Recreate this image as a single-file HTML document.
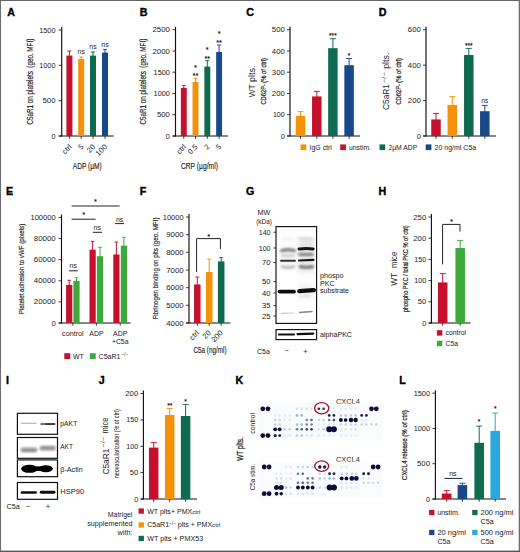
<!DOCTYPE html>
<html lang="en"><head><meta charset="utf-8"><title>Figure</title>
<style>
html,body{margin:0;padding:0;background:#fff;}
body{width:520px;height:552px;overflow:hidden;}
svg{display:block;font-family:"Liberation Sans",sans-serif;fill:#1a1a1a;}
svg text.h{stroke:#1a1a1a;stroke-width:0.15px;}
</style></head><body>
<svg width="520" height="552" viewBox="0 0 520 552">
<defs>
<filter id="b0" filterUnits="userSpaceOnUse" x="0" y="0" width="520" height="552"><feGaussianBlur stdDeviation="0.45"/></filter>
<filter id="b05" filterUnits="userSpaceOnUse" x="0" y="0" width="520" height="552"><feGaussianBlur stdDeviation="0.6"/></filter>
<filter id="b1" filterUnits="userSpaceOnUse" x="0" y="0" width="520" height="552"><feGaussianBlur stdDeviation="0.85"/></filter>
<filter id="b2" filterUnits="userSpaceOnUse" x="0" y="0" width="520" height="552"><feGaussianBlur stdDeviation="2.2"/></filter>
<filter id="b3" filterUnits="userSpaceOnUse" x="0" y="0" width="520" height="552"><feGaussianBlur stdDeviation="1.6"/></filter>
<filter id="d0" filterUnits="userSpaceOnUse" x="0" y="0" width="520" height="552"><feGaussianBlur stdDeviation="0.35"/></filter>
<filter id="d1" filterUnits="userSpaceOnUse" x="0" y="0" width="520" height="552"><feGaussianBlur stdDeviation="0.5"/></filter>
<clipPath id="cG1"><rect x="276" y="226.6" width="40.6" height="96.8"/></clipPath>
<clipPath id="cG2"><rect x="276" y="329.6" width="40.6" height="10"/></clipPath>
</defs>
<rect x="0" y="0" width="520" height="552" fill="#fff"/>
<text x="7.25" y="15.90" font-size="10.0" font-weight="bold" textLength="7.73" lengthAdjust="spacingAndGlyphs" fill="#000" stroke="#000" stroke-width="0.35">A</text>
<line x1="61.70" y1="27.10" x2="61.70" y2="136.55" stroke="#111" stroke-width="1.15"/>
<line x1="58.70" y1="30.00" x2="61.70" y2="30.00" stroke="#1a1a1a" stroke-width="0.85"/>
<text x="55.50" y="32.56" font-size="7.1" text-anchor="end" textLength="16.35" lengthAdjust="spacingAndGlyphs">1500</text>
<line x1="58.70" y1="65.30" x2="61.70" y2="65.30" stroke="#1a1a1a" stroke-width="0.85"/>
<text x="55.50" y="67.86" font-size="7.1" text-anchor="end" textLength="16.35" lengthAdjust="spacingAndGlyphs">1000</text>
<line x1="58.70" y1="100.70" x2="61.70" y2="100.70" stroke="#1a1a1a" stroke-width="0.85"/>
<text x="55.50" y="103.26" font-size="7.1" text-anchor="end" textLength="12.95" lengthAdjust="spacingAndGlyphs">500</text>
<line x1="58.70" y1="136.00" x2="61.70" y2="136.00" stroke="#1a1a1a" stroke-width="0.85"/>
<text x="55.50" y="138.56" font-size="7.1" text-anchor="end" textLength="4.05" lengthAdjust="spacingAndGlyphs">0</text>
<line x1="58.70" y1="136.00" x2="113.60" y2="136.00" stroke="#111" stroke-width="1.15"/>
<line x1="69.40" y1="136.00" x2="69.40" y2="138.80" stroke="#1a1a1a" stroke-width="0.85"/>
<line x1="81.20" y1="136.00" x2="81.20" y2="138.80" stroke="#1a1a1a" stroke-width="0.85"/>
<line x1="93.00" y1="136.00" x2="93.00" y2="138.80" stroke="#1a1a1a" stroke-width="0.85"/>
<line x1="105.00" y1="136.00" x2="105.00" y2="138.80" stroke="#1a1a1a" stroke-width="0.85"/>
<line x1="69.40" y1="51.00" x2="69.40" y2="56.10" stroke="#c5112e" stroke-width="1.0"/>
<line x1="67.40" y1="51.00" x2="71.40" y2="51.00" stroke="#c5112e" stroke-width="0.95"/>
<rect x="66.40" y="55.60" width="6.00" height="80.40" fill="#c5112e"/>
<line x1="81.20" y1="57.00" x2="81.20" y2="59.50" stroke="#f39208" stroke-width="1.0"/>
<line x1="79.20" y1="57.00" x2="83.20" y2="57.00" stroke="#f39208" stroke-width="0.95"/>
<rect x="78.20" y="59.00" width="6.00" height="77.00" fill="#f39208"/>
<line x1="93.00" y1="52.00" x2="93.00" y2="56.10" stroke="#0f6b50" stroke-width="1.0"/>
<line x1="91.00" y1="52.00" x2="95.00" y2="52.00" stroke="#0f6b50" stroke-width="0.95"/>
<rect x="90.00" y="55.60" width="6.00" height="80.40" fill="#0f6b50"/>
<line x1="105.00" y1="49.60" x2="105.00" y2="53.10" stroke="#17498a" stroke-width="1.0"/>
<line x1="103.00" y1="49.60" x2="107.00" y2="49.60" stroke="#17498a" stroke-width="0.95"/>
<rect x="102.00" y="52.60" width="6.00" height="83.40" fill="#17498a"/>
<text x="81.20" y="53.62" font-size="7" text-anchor="middle">ns</text>
<text x="93.00" y="49.22" font-size="7" text-anchor="middle">ns</text>
<text x="105.00" y="47.22" font-size="7" text-anchor="middle">ns</text>
<text transform="translate(70.20 145.40) rotate(-45)" y="2.70" font-size="7.5" text-anchor="end">ctrl</text>
<text transform="translate(82.00 145.40) rotate(-45)" y="2.70" font-size="7.5" text-anchor="end" textLength="3.91" lengthAdjust="spacingAndGlyphs">5</text>
<text transform="translate(93.80 145.40) rotate(-45)" y="2.70" font-size="7.5" text-anchor="end" textLength="8.42" lengthAdjust="spacingAndGlyphs">20</text>
<text transform="translate(105.80 145.40) rotate(-45)" y="2.70" font-size="7.5" text-anchor="end" textLength="12.93" lengthAdjust="spacingAndGlyphs">100</text>
<text x="87.30" y="169.31" font-size="9.2" text-anchor="middle" textLength="29.00" lengthAdjust="spacingAndGlyphs" class="h">ADP (µM)</text>
<text transform="translate(29.60 81.60) rotate(-90)" y="2.95" font-size="8.2" text-anchor="middle" textLength="85.70" lengthAdjust="spacingAndGlyphs" class="h">C5aR1 on platelets&#160; (geo. MFI)</text>
<text x="139.80" y="15.80" font-size="10.0" font-weight="bold" textLength="7.73" lengthAdjust="spacingAndGlyphs" fill="#000" stroke="#000" stroke-width="0.35">B</text>
<line x1="175.50" y1="26.80" x2="175.50" y2="136.55" stroke="#111" stroke-width="1.15"/>
<line x1="172.50" y1="29.70" x2="175.50" y2="29.70" stroke="#1a1a1a" stroke-width="0.85"/>
<text x="169.90" y="32.26" font-size="7.1" text-anchor="end" textLength="17.40" lengthAdjust="spacingAndGlyphs">2500</text>
<line x1="172.50" y1="51.00" x2="175.50" y2="51.00" stroke="#1a1a1a" stroke-width="0.85"/>
<text x="169.90" y="53.56" font-size="7.1" text-anchor="end" textLength="17.40" lengthAdjust="spacingAndGlyphs">2000</text>
<line x1="172.50" y1="72.20" x2="175.50" y2="72.20" stroke="#1a1a1a" stroke-width="0.85"/>
<text x="169.90" y="74.76" font-size="7.1" text-anchor="end" textLength="16.35" lengthAdjust="spacingAndGlyphs">1500</text>
<line x1="172.50" y1="93.50" x2="175.50" y2="93.50" stroke="#1a1a1a" stroke-width="0.85"/>
<text x="169.90" y="96.06" font-size="7.1" text-anchor="end" textLength="16.35" lengthAdjust="spacingAndGlyphs">1000</text>
<line x1="172.50" y1="114.70" x2="175.50" y2="114.70" stroke="#1a1a1a" stroke-width="0.85"/>
<text x="169.90" y="117.26" font-size="7.1" text-anchor="end" textLength="12.95" lengthAdjust="spacingAndGlyphs">500</text>
<line x1="172.50" y1="136.00" x2="175.50" y2="136.00" stroke="#1a1a1a" stroke-width="0.85"/>
<text x="169.90" y="138.56" font-size="7.1" text-anchor="end" textLength="4.05" lengthAdjust="spacingAndGlyphs">0</text>
<line x1="172.70" y1="136.00" x2="228.00" y2="136.00" stroke="#111" stroke-width="1.15"/>
<line x1="183.80" y1="136.00" x2="183.80" y2="138.80" stroke="#1a1a1a" stroke-width="0.85"/>
<line x1="195.50" y1="136.00" x2="195.50" y2="138.80" stroke="#1a1a1a" stroke-width="0.85"/>
<line x1="207.30" y1="136.00" x2="207.30" y2="138.80" stroke="#1a1a1a" stroke-width="0.85"/>
<line x1="219.10" y1="136.00" x2="219.10" y2="138.80" stroke="#1a1a1a" stroke-width="0.85"/>
<line x1="183.80" y1="85.40" x2="183.80" y2="88.50" stroke="#c5112e" stroke-width="1.0"/>
<line x1="181.80" y1="85.40" x2="185.80" y2="85.40" stroke="#c5112e" stroke-width="0.95"/>
<rect x="180.85" y="88.00" width="5.90" height="48.00" fill="#c5112e"/>
<line x1="195.50" y1="78.60" x2="195.50" y2="82.50" stroke="#f39208" stroke-width="1.0"/>
<line x1="193.50" y1="78.60" x2="197.50" y2="78.60" stroke="#f39208" stroke-width="0.95"/>
<rect x="192.55" y="82.00" width="5.90" height="54.00" fill="#f39208"/>
<line x1="207.30" y1="60.60" x2="207.30" y2="67.10" stroke="#0f6b50" stroke-width="1.0"/>
<line x1="205.30" y1="60.60" x2="209.30" y2="60.60" stroke="#0f6b50" stroke-width="0.95"/>
<rect x="204.35" y="66.60" width="5.90" height="69.40" fill="#0f6b50"/>
<line x1="219.10" y1="45.00" x2="219.10" y2="52.50" stroke="#17498a" stroke-width="1.0"/>
<line x1="217.10" y1="45.00" x2="221.10" y2="45.00" stroke="#17498a" stroke-width="0.95"/>
<rect x="216.15" y="52.00" width="5.90" height="84.00" fill="#17498a"/>
<text x="195.50" y="78.25" font-size="7.5" text-anchor="middle" fill="#000" stroke="#000" stroke-width="0.1">**</text>
<text x="195.50" y="69.85" font-size="7.5" text-anchor="middle" fill="#000" stroke="#000" stroke-width="0.1">*</text>
<text x="207.30" y="60.85" font-size="7.5" text-anchor="middle" fill="#000" stroke="#000" stroke-width="0.1">**</text>
<text x="207.30" y="52.25" font-size="7.5" text-anchor="middle" fill="#000" stroke="#000" stroke-width="0.1">*</text>
<text x="219.10" y="44.65" font-size="7.5" text-anchor="middle" fill="#000" stroke="#000" stroke-width="0.1">**</text>
<text x="219.10" y="36.25" font-size="7.5" text-anchor="middle" fill="#000" stroke="#000" stroke-width="0.1">*</text>
<text transform="translate(184.60 145.40) rotate(-45)" y="2.70" font-size="7.5" text-anchor="end">ctrl</text>
<text transform="translate(196.30 145.40) rotate(-45)" y="2.70" font-size="7.5" text-anchor="end" textLength="10.42" lengthAdjust="spacingAndGlyphs">0.5</text>
<text transform="translate(208.10 145.40) rotate(-45)" y="2.70" font-size="7.5" text-anchor="end" textLength="3.91" lengthAdjust="spacingAndGlyphs">2</text>
<text transform="translate(219.90 145.40) rotate(-45)" y="2.70" font-size="7.5" text-anchor="end" textLength="3.91" lengthAdjust="spacingAndGlyphs">5</text>
<text x="199.40" y="169.11" font-size="9.2" text-anchor="middle" textLength="37.00" lengthAdjust="spacingAndGlyphs" class="h">CRP (µg/ml)</text>
<text transform="translate(143.40 81.60) rotate(-90)" y="2.95" font-size="8.2" text-anchor="middle" textLength="85.70" lengthAdjust="spacingAndGlyphs" class="h">C5aR1 on platelets&#160; (geo. MFI)</text>
<text x="246.30" y="15.80" font-size="10.0" font-weight="bold" textLength="7.73" lengthAdjust="spacingAndGlyphs" fill="#000" stroke="#000" stroke-width="0.35">C</text>
<line x1="290.00" y1="26.80" x2="290.00" y2="136.55" stroke="#111" stroke-width="1.15"/>
<line x1="287.00" y1="29.70" x2="290.00" y2="29.70" stroke="#1a1a1a" stroke-width="0.85"/>
<text x="284.80" y="32.26" font-size="7.1" text-anchor="end" textLength="12.95" lengthAdjust="spacingAndGlyphs">500</text>
<line x1="287.00" y1="51.00" x2="290.00" y2="51.00" stroke="#1a1a1a" stroke-width="0.85"/>
<text x="284.80" y="53.56" font-size="7.1" text-anchor="end" textLength="12.95" lengthAdjust="spacingAndGlyphs">400</text>
<line x1="287.00" y1="72.20" x2="290.00" y2="72.20" stroke="#1a1a1a" stroke-width="0.85"/>
<text x="284.80" y="74.76" font-size="7.1" text-anchor="end" textLength="12.95" lengthAdjust="spacingAndGlyphs">300</text>
<line x1="287.00" y1="93.50" x2="290.00" y2="93.50" stroke="#1a1a1a" stroke-width="0.85"/>
<text x="284.80" y="96.06" font-size="7.1" text-anchor="end" textLength="12.95" lengthAdjust="spacingAndGlyphs">200</text>
<line x1="287.00" y1="114.70" x2="290.00" y2="114.70" stroke="#1a1a1a" stroke-width="0.85"/>
<text x="284.80" y="117.26" font-size="7.1" text-anchor="end" textLength="11.90" lengthAdjust="spacingAndGlyphs">100</text>
<line x1="287.00" y1="136.00" x2="290.00" y2="136.00" stroke="#1a1a1a" stroke-width="0.85"/>
<text x="284.80" y="138.56" font-size="7.1" text-anchor="end" textLength="4.05" lengthAdjust="spacingAndGlyphs">0</text>
<line x1="287.20" y1="136.00" x2="360.00" y2="136.00" stroke="#111" stroke-width="1.15"/>
<line x1="300.50" y1="136.00" x2="300.50" y2="138.80" stroke="#1a1a1a" stroke-width="0.85"/>
<line x1="316.80" y1="136.00" x2="316.80" y2="138.80" stroke="#1a1a1a" stroke-width="0.85"/>
<line x1="332.90" y1="136.00" x2="332.90" y2="138.80" stroke="#1a1a1a" stroke-width="0.85"/>
<line x1="349.10" y1="136.00" x2="349.10" y2="138.80" stroke="#1a1a1a" stroke-width="0.85"/>
<line x1="300.50" y1="111.60" x2="300.50" y2="116.50" stroke="#f39208" stroke-width="1.0"/>
<line x1="297.50" y1="111.60" x2="303.50" y2="111.60" stroke="#f39208" stroke-width="0.95"/>
<rect x="295.75" y="116.00" width="9.50" height="20.00" fill="#f39208"/>
<line x1="316.80" y1="91.40" x2="316.80" y2="96.90" stroke="#c5112e" stroke-width="1.0"/>
<line x1="313.80" y1="91.40" x2="319.80" y2="91.40" stroke="#c5112e" stroke-width="0.95"/>
<rect x="312.05" y="96.40" width="9.50" height="39.60" fill="#c5112e"/>
<line x1="332.90" y1="38.70" x2="332.90" y2="48.70" stroke="#0f6b50" stroke-width="1.0"/>
<line x1="329.90" y1="38.70" x2="335.90" y2="38.70" stroke="#0f6b50" stroke-width="0.95"/>
<rect x="328.15" y="48.20" width="9.50" height="87.80" fill="#0f6b50"/>
<line x1="349.10" y1="58.50" x2="349.10" y2="65.70" stroke="#17498a" stroke-width="1.0"/>
<line x1="346.10" y1="58.50" x2="352.10" y2="58.50" stroke="#17498a" stroke-width="0.95"/>
<rect x="344.35" y="65.20" width="9.50" height="70.80" fill="#17498a"/>
<text x="332.90" y="38.49" font-size="6.5" text-anchor="middle" fill="#000" stroke="#000" stroke-width="0.1">***</text>
<text x="349.10" y="58.09" font-size="6.5" text-anchor="middle" fill="#000" stroke="#000" stroke-width="0.1">*</text>
<text transform="translate(251.30 97.20) rotate(-90)" y="3.46" font-size="9.6" textLength="12.80" lengthAdjust="spacingAndGlyphs">WT</text>
<text transform="translate(251.30 82.00) rotate(-90)" y="3.38" font-size="9.4" textLength="16.40" lengthAdjust="spacingAndGlyphs">plts.</text>
<text transform="translate(263.70 81.30) rotate(-90)" y="2.45" font-size="6.8" text-anchor="middle" textLength="46.50" lengthAdjust="spacingAndGlyphs" stroke="#1a1a1a" stroke-width="0.22">CD62P<tspan dy="-1.6" font-size="3.6">+</tspan><tspan dy="1.6"> (% of ctrl)</tspan></text>
<rect x="300.60" y="144.40" width="5.70" height="5.70" fill="#f39208"/>
<text x="309.50" y="149.82" font-size="7.0" textLength="22.40" lengthAdjust="spacingAndGlyphs">IgG ctrl</text>
<rect x="340.20" y="144.40" width="5.70" height="5.70" fill="#c5112e"/>
<text x="349.10" y="149.82" font-size="7.0" textLength="21.80" lengthAdjust="spacingAndGlyphs">unstim.</text>
<rect x="379.50" y="144.40" width="5.70" height="5.70" fill="#0f6b50"/>
<text x="388.40" y="149.82" font-size="7.0" textLength="28.80" lengthAdjust="spacingAndGlyphs">2µM ADP</text>
<rect x="425.70" y="144.40" width="5.70" height="5.70" fill="#17498a"/>
<text x="434.60" y="149.82" font-size="7.0" textLength="41.60" lengthAdjust="spacingAndGlyphs">20 ng/ml C5a</text>
<text x="378.80" y="15.80" font-size="10.0" font-weight="bold" textLength="7.73" lengthAdjust="spacingAndGlyphs" fill="#000" stroke="#000" stroke-width="0.35">D</text>
<line x1="426.00" y1="26.80" x2="426.00" y2="136.55" stroke="#111" stroke-width="1.15"/>
<line x1="423.00" y1="29.70" x2="426.00" y2="29.70" stroke="#1a1a1a" stroke-width="0.85"/>
<text x="420.80" y="32.26" font-size="7.1" text-anchor="end" textLength="12.95" lengthAdjust="spacingAndGlyphs">600</text>
<line x1="423.00" y1="65.20" x2="426.00" y2="65.20" stroke="#1a1a1a" stroke-width="0.85"/>
<text x="420.80" y="67.76" font-size="7.1" text-anchor="end" textLength="12.95" lengthAdjust="spacingAndGlyphs">400</text>
<line x1="423.00" y1="100.60" x2="426.00" y2="100.60" stroke="#1a1a1a" stroke-width="0.85"/>
<text x="420.80" y="103.16" font-size="7.1" text-anchor="end" textLength="12.95" lengthAdjust="spacingAndGlyphs">200</text>
<line x1="423.00" y1="136.00" x2="426.00" y2="136.00" stroke="#1a1a1a" stroke-width="0.85"/>
<text x="420.80" y="138.56" font-size="7.1" text-anchor="end" textLength="4.05" lengthAdjust="spacingAndGlyphs">0</text>
<line x1="423.20" y1="136.00" x2="496.00" y2="136.00" stroke="#111" stroke-width="1.15"/>
<line x1="436.00" y1="136.00" x2="436.00" y2="138.80" stroke="#1a1a1a" stroke-width="0.85"/>
<line x1="452.30" y1="136.00" x2="452.30" y2="138.80" stroke="#1a1a1a" stroke-width="0.85"/>
<line x1="468.80" y1="136.00" x2="468.80" y2="138.80" stroke="#1a1a1a" stroke-width="0.85"/>
<line x1="484.80" y1="136.00" x2="484.80" y2="138.80" stroke="#1a1a1a" stroke-width="0.85"/>
<line x1="436.00" y1="113.40" x2="436.00" y2="119.90" stroke="#c5112e" stroke-width="1.0"/>
<line x1="433.00" y1="113.40" x2="439.00" y2="113.40" stroke="#c5112e" stroke-width="0.95"/>
<rect x="431.25" y="119.40" width="9.50" height="16.60" fill="#c5112e"/>
<line x1="452.30" y1="96.60" x2="452.30" y2="105.50" stroke="#f39208" stroke-width="1.0"/>
<line x1="449.30" y1="96.60" x2="455.30" y2="96.60" stroke="#f39208" stroke-width="0.95"/>
<rect x="447.55" y="105.00" width="9.50" height="31.00" fill="#f39208"/>
<line x1="468.80" y1="48.40" x2="468.80" y2="55.50" stroke="#0f6b50" stroke-width="1.0"/>
<line x1="465.80" y1="48.40" x2="471.80" y2="48.40" stroke="#0f6b50" stroke-width="0.95"/>
<rect x="464.05" y="55.00" width="9.50" height="81.00" fill="#0f6b50"/>
<line x1="484.80" y1="105.40" x2="484.80" y2="111.70" stroke="#17498a" stroke-width="1.0"/>
<line x1="481.80" y1="105.40" x2="487.80" y2="105.40" stroke="#17498a" stroke-width="0.95"/>
<rect x="480.05" y="111.20" width="9.50" height="24.80" fill="#17498a"/>
<text x="468.80" y="47.89" font-size="6.5" text-anchor="middle" fill="#000" stroke="#000" stroke-width="0.1">***</text>
<text x="484.80" y="103.10" font-size="6.4" text-anchor="middle">ns</text>
<text transform="translate(385.50 110.00) rotate(-90)" y="3.49" font-size="9.7" textLength="26.00" lengthAdjust="spacingAndGlyphs">C5aR1</text>
<text transform="translate(383.80 83.00) rotate(-90)" y="2.02" font-size="5.6" textLength="10.80" lengthAdjust="spacingAndGlyphs">−/−</text>
<text transform="translate(385.50 68.80) rotate(-90)" y="3.38" font-size="9.4" textLength="16.20" lengthAdjust="spacingAndGlyphs">plts.</text>
<text transform="translate(398.70 81.30) rotate(-90)" y="2.45" font-size="6.8" text-anchor="middle" textLength="46.50" lengthAdjust="spacingAndGlyphs" stroke="#1a1a1a" stroke-width="0.22">CD62P<tspan dy="-1.6" font-size="3.6">+</tspan><tspan dy="1.6"> (% of ctrl)</tspan></text>
<text x="6.05" y="195.40" font-size="10.0" font-weight="bold" textLength="7.14" lengthAdjust="spacingAndGlyphs" fill="#000" stroke="#000" stroke-width="0.35">E</text>
<line x1="61.50" y1="214.50" x2="61.50" y2="323.55" stroke="#111" stroke-width="1.15"/>
<line x1="58.50" y1="217.40" x2="61.50" y2="217.40" stroke="#1a1a1a" stroke-width="0.85"/>
<text x="55.70" y="219.96" font-size="7.1" text-anchor="end" textLength="25.25" lengthAdjust="spacingAndGlyphs">100000</text>
<line x1="58.50" y1="238.50" x2="61.50" y2="238.50" stroke="#1a1a1a" stroke-width="0.85"/>
<text x="55.70" y="241.06" font-size="7.1" text-anchor="end" textLength="21.85" lengthAdjust="spacingAndGlyphs">80000</text>
<line x1="58.50" y1="259.60" x2="61.50" y2="259.60" stroke="#1a1a1a" stroke-width="0.85"/>
<text x="55.70" y="262.16" font-size="7.1" text-anchor="end" textLength="21.85" lengthAdjust="spacingAndGlyphs">60000</text>
<line x1="58.50" y1="280.80" x2="61.50" y2="280.80" stroke="#1a1a1a" stroke-width="0.85"/>
<text x="55.70" y="283.36" font-size="7.1" text-anchor="end" textLength="21.85" lengthAdjust="spacingAndGlyphs">40000</text>
<line x1="58.50" y1="301.90" x2="61.50" y2="301.90" stroke="#1a1a1a" stroke-width="0.85"/>
<text x="55.70" y="304.46" font-size="7.1" text-anchor="end" textLength="21.85" lengthAdjust="spacingAndGlyphs">20000</text>
<line x1="58.50" y1="323.00" x2="61.50" y2="323.00" stroke="#1a1a1a" stroke-width="0.85"/>
<text x="55.70" y="325.56" font-size="7.1" text-anchor="end" textLength="4.05" lengthAdjust="spacingAndGlyphs">0</text>
<line x1="58.70" y1="323.00" x2="130.50" y2="323.00" stroke="#111" stroke-width="1.15"/>
<line x1="72.90" y1="323.00" x2="72.90" y2="325.80" stroke="#1a1a1a" stroke-width="0.85"/>
<line x1="96.40" y1="323.00" x2="96.40" y2="325.80" stroke="#1a1a1a" stroke-width="0.85"/>
<line x1="120.20" y1="323.00" x2="120.20" y2="325.80" stroke="#1a1a1a" stroke-width="0.85"/>
<line x1="69.20" y1="280.30" x2="69.20" y2="285.40" stroke="#c5112e" stroke-width="1.0"/>
<line x1="67.40" y1="280.30" x2="71.00" y2="280.30" stroke="#c5112e" stroke-width="0.95"/>
<rect x="66.10" y="284.90" width="6.20" height="38.10" fill="#c5112e"/>
<line x1="76.50" y1="277.70" x2="76.50" y2="281.30" stroke="#3da83c" stroke-width="1.0"/>
<line x1="74.70" y1="277.70" x2="78.30" y2="277.70" stroke="#3da83c" stroke-width="0.95"/>
<rect x="73.40" y="280.80" width="6.20" height="42.20" fill="#3da83c"/>
<line x1="92.60" y1="241.40" x2="92.60" y2="250.20" stroke="#c5112e" stroke-width="1.0"/>
<line x1="90.80" y1="241.40" x2="94.40" y2="241.40" stroke="#c5112e" stroke-width="0.95"/>
<rect x="89.50" y="249.70" width="6.20" height="73.30" fill="#c5112e"/>
<line x1="100.00" y1="247.30" x2="100.00" y2="256.70" stroke="#3da83c" stroke-width="1.0"/>
<line x1="98.20" y1="247.30" x2="101.80" y2="247.30" stroke="#3da83c" stroke-width="0.95"/>
<rect x="96.90" y="256.20" width="6.20" height="66.80" fill="#3da83c"/>
<line x1="116.40" y1="242.10" x2="116.40" y2="255.00" stroke="#c5112e" stroke-width="1.0"/>
<line x1="114.60" y1="242.10" x2="118.20" y2="242.10" stroke="#c5112e" stroke-width="0.95"/>
<rect x="113.30" y="254.50" width="6.20" height="68.50" fill="#c5112e"/>
<line x1="123.90" y1="237.30" x2="123.90" y2="246.20" stroke="#3da83c" stroke-width="1.0"/>
<line x1="122.10" y1="237.30" x2="125.70" y2="237.30" stroke="#3da83c" stroke-width="0.95"/>
<rect x="120.80" y="245.70" width="6.20" height="77.30" fill="#3da83c"/>
<text x="73.30" y="268.12" font-size="7" text-anchor="middle">ns</text>
<line x1="69.00" y1="270.80" x2="77.80" y2="270.80" stroke="#222" stroke-width="1.0"/>
<text x="97.30" y="229.52" font-size="7" text-anchor="middle">ns</text>
<line x1="92.80" y1="232.30" x2="102.00" y2="232.30" stroke="#222" stroke-width="1.0"/>
<text x="119.60" y="221.52" font-size="7" text-anchor="middle">ns</text>
<line x1="115.00" y1="223.60" x2="124.20" y2="223.60" stroke="#222" stroke-width="1.0"/>
<line x1="71.60" y1="219.20" x2="95.60" y2="219.20" stroke="#222" stroke-width="1.0"/>
<text x="83.60" y="217.45" font-size="7.5" text-anchor="middle" fill="#000" stroke="#000" stroke-width="0.1">*</text>
<line x1="71.60" y1="206.00" x2="119.60" y2="206.00" stroke="#222" stroke-width="1.0"/>
<text x="95.40" y="204.25" font-size="7.5" text-anchor="middle" fill="#000" stroke="#000" stroke-width="0.1">*</text>
<text x="72.90" y="335.88" font-size="6.9" text-anchor="middle" textLength="21.60" lengthAdjust="spacingAndGlyphs">control</text>
<text x="96.40" y="335.88" font-size="6.9" text-anchor="middle" textLength="14.20" lengthAdjust="spacingAndGlyphs">ADP</text>
<text x="120.20" y="335.88" font-size="6.9" text-anchor="middle" textLength="14.20" lengthAdjust="spacingAndGlyphs">ADP</text>
<text x="120.20" y="343.88" font-size="6.9" text-anchor="middle" textLength="16.60" lengthAdjust="spacingAndGlyphs">+C5a</text>
<rect x="64.30" y="353.20" width="5.90" height="5.90" fill="#c5112e"/>
<text x="73.00" y="358.80" font-size="7.5" textLength="10.80" lengthAdjust="spacingAndGlyphs">WT</text>
<rect x="89.80" y="353.20" width="5.90" height="5.90" fill="#3da83c"/>
<text x="98.60" y="358.80" font-size="7.5" textLength="29.40" lengthAdjust="spacingAndGlyphs">C5aR1<tspan dx="1.2" dy="-2.9" font-size="4.8">−/−</tspan></text>
<text transform="translate(21.30 269.00) rotate(-90)" y="2.84" font-size="7.9" text-anchor="middle" textLength="90.50" lengthAdjust="spacingAndGlyphs" class="h">Platelet adhesion to vWF (pixels)</text>
<text x="139.80" y="195.40" font-size="10.0" font-weight="bold" textLength="6.54" lengthAdjust="spacingAndGlyphs" fill="#000" stroke="#000" stroke-width="0.35">F</text>
<line x1="189.00" y1="214.10" x2="189.00" y2="323.55" stroke="#111" stroke-width="1.15"/>
<line x1="186.00" y1="217.00" x2="189.00" y2="217.00" stroke="#1a1a1a" stroke-width="0.85"/>
<text x="183.60" y="219.56" font-size="7.1" text-anchor="end" textLength="20.80" lengthAdjust="spacingAndGlyphs">10000</text>
<line x1="186.00" y1="234.70" x2="189.00" y2="234.70" stroke="#1a1a1a" stroke-width="0.85"/>
<text x="183.60" y="237.26" font-size="7.1" text-anchor="end" textLength="17.40" lengthAdjust="spacingAndGlyphs">9000</text>
<line x1="186.00" y1="252.30" x2="189.00" y2="252.30" stroke="#1a1a1a" stroke-width="0.85"/>
<text x="183.60" y="254.86" font-size="7.1" text-anchor="end" textLength="17.40" lengthAdjust="spacingAndGlyphs">8000</text>
<line x1="186.00" y1="270.00" x2="189.00" y2="270.00" stroke="#1a1a1a" stroke-width="0.85"/>
<text x="183.60" y="272.56" font-size="7.1" text-anchor="end" textLength="17.40" lengthAdjust="spacingAndGlyphs">7000</text>
<line x1="186.00" y1="287.70" x2="189.00" y2="287.70" stroke="#1a1a1a" stroke-width="0.85"/>
<text x="183.60" y="290.26" font-size="7.1" text-anchor="end" textLength="17.40" lengthAdjust="spacingAndGlyphs">6000</text>
<line x1="186.00" y1="305.30" x2="189.00" y2="305.30" stroke="#1a1a1a" stroke-width="0.85"/>
<text x="183.60" y="307.86" font-size="7.1" text-anchor="end" textLength="17.40" lengthAdjust="spacingAndGlyphs">5000</text>
<line x1="186.00" y1="323.00" x2="189.00" y2="323.00" stroke="#1a1a1a" stroke-width="0.85"/>
<text x="183.60" y="325.56" font-size="7.1" text-anchor="end" textLength="17.40" lengthAdjust="spacingAndGlyphs">4000</text>
<line x1="186.20" y1="323.00" x2="230.30" y2="323.00" stroke="#111" stroke-width="1.15"/>
<line x1="197.30" y1="323.00" x2="197.30" y2="325.80" stroke="#1a1a1a" stroke-width="0.85"/>
<line x1="209.20" y1="323.00" x2="209.20" y2="325.80" stroke="#1a1a1a" stroke-width="0.85"/>
<line x1="221.20" y1="323.00" x2="221.20" y2="325.80" stroke="#1a1a1a" stroke-width="0.85"/>
<line x1="197.30" y1="277.00" x2="197.30" y2="284.90" stroke="#c5112e" stroke-width="1.0"/>
<line x1="195.30" y1="277.00" x2="199.30" y2="277.00" stroke="#c5112e" stroke-width="0.95"/>
<rect x="194.05" y="284.40" width="6.50" height="38.60" fill="#c5112e"/>
<line x1="209.20" y1="259.00" x2="209.20" y2="272.50" stroke="#f39208" stroke-width="1.0"/>
<line x1="207.20" y1="259.00" x2="211.20" y2="259.00" stroke="#f39208" stroke-width="0.95"/>
<rect x="205.95" y="272.00" width="6.50" height="51.00" fill="#f39208"/>
<line x1="221.20" y1="257.60" x2="221.20" y2="261.90" stroke="#0f6b50" stroke-width="1.0"/>
<line x1="219.20" y1="257.60" x2="223.20" y2="257.60" stroke="#0f6b50" stroke-width="0.95"/>
<rect x="217.95" y="261.40" width="6.50" height="61.60" fill="#0f6b50"/>
<path d="M196.6 272 V238.6 H220.4 V249" fill="none" stroke="#222" stroke-width="1.0"/>
<text x="208.60" y="238.65" font-size="7.5" text-anchor="middle" fill="#000" stroke="#000" stroke-width="0.1">*</text>
<text transform="translate(197.60 331.40) rotate(-45)" y="2.70" font-size="7.5" text-anchor="end">ctrl</text>
<text transform="translate(209.50 331.40) rotate(-45)" y="2.70" font-size="7.5" text-anchor="end" textLength="8.42" lengthAdjust="spacingAndGlyphs">20</text>
<text transform="translate(221.50 331.40) rotate(-45)" y="2.70" font-size="7.5" text-anchor="end" textLength="12.93" lengthAdjust="spacingAndGlyphs">200</text>
<text x="210.00" y="353.31" font-size="9.2" text-anchor="middle" textLength="33.00" lengthAdjust="spacingAndGlyphs" class="h">C5a (ng/ml)</text>
<text transform="translate(154.70 268.50) rotate(-90)" y="2.84" font-size="7.9" text-anchor="middle" textLength="102.00" lengthAdjust="spacingAndGlyphs" class="h">Fibrinogen binding on plts (geo. MFI)</text>
<text x="378.55" y="195.40" font-size="10.0" font-weight="bold" textLength="7.73" lengthAdjust="spacingAndGlyphs" fill="#000" stroke="#000" stroke-width="0.35">H</text>
<line x1="431.40" y1="214.10" x2="431.40" y2="323.55" stroke="#111" stroke-width="1.15"/>
<line x1="428.40" y1="217.00" x2="431.40" y2="217.00" stroke="#1a1a1a" stroke-width="0.85"/>
<text x="426.20" y="219.56" font-size="7.1" text-anchor="end" textLength="12.95" lengthAdjust="spacingAndGlyphs">250</text>
<line x1="428.40" y1="238.20" x2="431.40" y2="238.20" stroke="#1a1a1a" stroke-width="0.85"/>
<text x="426.20" y="240.76" font-size="7.1" text-anchor="end" textLength="12.95" lengthAdjust="spacingAndGlyphs">200</text>
<line x1="428.40" y1="259.40" x2="431.40" y2="259.40" stroke="#1a1a1a" stroke-width="0.85"/>
<text x="426.20" y="261.96" font-size="7.1" text-anchor="end" textLength="11.90" lengthAdjust="spacingAndGlyphs">150</text>
<line x1="428.40" y1="280.60" x2="431.40" y2="280.60" stroke="#1a1a1a" stroke-width="0.85"/>
<text x="426.20" y="283.16" font-size="7.1" text-anchor="end" textLength="11.90" lengthAdjust="spacingAndGlyphs">100</text>
<line x1="428.40" y1="301.80" x2="431.40" y2="301.80" stroke="#1a1a1a" stroke-width="0.85"/>
<text x="426.20" y="304.36" font-size="7.1" text-anchor="end" textLength="8.50" lengthAdjust="spacingAndGlyphs">50</text>
<line x1="428.40" y1="323.00" x2="431.40" y2="323.00" stroke="#1a1a1a" stroke-width="0.85"/>
<text x="426.20" y="325.56" font-size="7.1" text-anchor="end" textLength="4.05" lengthAdjust="spacingAndGlyphs">0</text>
<line x1="428.60" y1="323.00" x2="470.50" y2="323.00" stroke="#111" stroke-width="1.15"/>
<line x1="442.70" y1="323.00" x2="442.70" y2="325.80" stroke="#1a1a1a" stroke-width="0.85"/>
<line x1="460.20" y1="323.00" x2="460.20" y2="325.80" stroke="#1a1a1a" stroke-width="0.85"/>
<line x1="442.70" y1="273.60" x2="442.70" y2="282.90" stroke="#c5112e" stroke-width="1.0"/>
<line x1="439.70" y1="273.60" x2="445.70" y2="273.60" stroke="#c5112e" stroke-width="0.95"/>
<rect x="437.95" y="282.40" width="9.50" height="40.60" fill="#c5112e"/>
<line x1="460.20" y1="240.40" x2="460.20" y2="248.50" stroke="#3da83c" stroke-width="1.0"/>
<line x1="457.20" y1="240.40" x2="463.20" y2="240.40" stroke="#3da83c" stroke-width="0.95"/>
<rect x="455.45" y="248.00" width="9.50" height="75.00" fill="#3da83c"/>
<path d="M442.6 264.4 V224.4 H460 V231.6" fill="none" stroke="#222" stroke-width="1.0"/>
<text x="451.40" y="224.25" font-size="7.5" text-anchor="middle" fill="#000" stroke="#000" stroke-width="0.1">*</text>
<rect x="436.90" y="330.20" width="5.40" height="5.40" fill="#c5112e"/>
<text x="445.50" y="335.45" font-size="6.8" textLength="20.60" lengthAdjust="spacingAndGlyphs">control</text>
<rect x="436.90" y="340.80" width="5.40" height="5.40" fill="#3da83c"/>
<text x="445.50" y="345.95" font-size="6.8" textLength="12.40" lengthAdjust="spacingAndGlyphs">C5a</text>
<text transform="translate(393.20 285.80) rotate(-90)" y="3.46" font-size="9.6" textLength="13.00" lengthAdjust="spacingAndGlyphs">WT</text>
<text transform="translate(393.40 268.00) rotate(-90)" y="3.13" font-size="8.7" textLength="16.20" lengthAdjust="spacingAndGlyphs">mice</text>
<text transform="translate(405.60 268.80) rotate(-90)" y="2.45" font-size="6.8" text-anchor="middle" textLength="87.00" lengthAdjust="spacingAndGlyphs" stroke="#1a1a1a" stroke-width="0.2">phospho PKC / total PKC % of ctrl)</text>
<text x="98.65" y="383.90" font-size="10.0" font-weight="bold" textLength="5.95" lengthAdjust="spacingAndGlyphs" fill="#000" stroke="#000" stroke-width="0.35">J</text>
<line x1="143.40" y1="390.60" x2="143.40" y2="499.55" stroke="#111" stroke-width="1.15"/>
<line x1="140.40" y1="393.50" x2="143.40" y2="393.50" stroke="#1a1a1a" stroke-width="0.85"/>
<text x="138.20" y="396.06" font-size="7.1" text-anchor="end" textLength="12.95" lengthAdjust="spacingAndGlyphs">200</text>
<line x1="140.40" y1="419.90" x2="143.40" y2="419.90" stroke="#1a1a1a" stroke-width="0.85"/>
<text x="138.20" y="422.46" font-size="7.1" text-anchor="end" textLength="11.90" lengthAdjust="spacingAndGlyphs">150</text>
<line x1="140.40" y1="446.30" x2="143.40" y2="446.30" stroke="#1a1a1a" stroke-width="0.85"/>
<text x="138.20" y="448.86" font-size="7.1" text-anchor="end" textLength="11.90" lengthAdjust="spacingAndGlyphs">100</text>
<line x1="140.40" y1="472.60" x2="143.40" y2="472.60" stroke="#1a1a1a" stroke-width="0.85"/>
<text x="138.20" y="475.16" font-size="7.1" text-anchor="end" textLength="8.50" lengthAdjust="spacingAndGlyphs">50</text>
<line x1="140.40" y1="499.00" x2="143.40" y2="499.00" stroke="#1a1a1a" stroke-width="0.85"/>
<text x="138.20" y="501.56" font-size="7.1" text-anchor="end" textLength="4.05" lengthAdjust="spacingAndGlyphs">0</text>
<line x1="140.60" y1="499.00" x2="197.00" y2="499.00" stroke="#111" stroke-width="1.15"/>
<line x1="153.70" y1="499.00" x2="153.70" y2="501.80" stroke="#1a1a1a" stroke-width="0.85"/>
<line x1="169.70" y1="499.00" x2="169.70" y2="501.80" stroke="#1a1a1a" stroke-width="0.85"/>
<line x1="185.60" y1="499.00" x2="185.60" y2="501.80" stroke="#1a1a1a" stroke-width="0.85"/>
<line x1="153.70" y1="442.60" x2="153.70" y2="448.10" stroke="#c5112e" stroke-width="1.0"/>
<line x1="150.70" y1="442.60" x2="156.70" y2="442.60" stroke="#c5112e" stroke-width="0.95"/>
<rect x="148.95" y="447.60" width="9.50" height="51.40" fill="#c5112e"/>
<line x1="169.70" y1="408.40" x2="169.70" y2="415.50" stroke="#f39208" stroke-width="1.0"/>
<line x1="166.70" y1="408.40" x2="172.70" y2="408.40" stroke="#f39208" stroke-width="0.95"/>
<rect x="164.95" y="415.00" width="9.50" height="84.00" fill="#f39208"/>
<line x1="185.60" y1="404.40" x2="185.60" y2="416.50" stroke="#0f6b50" stroke-width="1.0"/>
<line x1="182.60" y1="404.40" x2="188.60" y2="404.40" stroke="#0f6b50" stroke-width="0.95"/>
<rect x="180.85" y="416.00" width="9.50" height="83.00" fill="#0f6b50"/>
<text x="169.70" y="408.49" font-size="6.5" text-anchor="middle" fill="#000" stroke="#000" stroke-width="0.1">**</text>
<text x="185.60" y="403.89" font-size="6.5" text-anchor="middle" fill="#000" stroke="#000" stroke-width="0.1">*</text>
<text transform="translate(105.10 474.60) rotate(-90)" y="3.49" font-size="9.7" textLength="26.00" lengthAdjust="spacingAndGlyphs">C5aR1</text>
<text transform="translate(103.40 447.80) rotate(-90)" y="2.02" font-size="5.6" textLength="11.00" lengthAdjust="spacingAndGlyphs">−/−</text>
<text transform="translate(105.30 433.40) rotate(-90)" y="3.13" font-size="8.7" textLength="15.80" lengthAdjust="spacingAndGlyphs">mice</text>
<text transform="translate(117.20 443.70) rotate(-90)" y="2.27" font-size="6.3" text-anchor="middle" textLength="69.00" lengthAdjust="spacingAndGlyphs">neovascularization (% of ctrl)</text>
<rect x="138.60" y="508.40" width="5.30" height="5.30" fill="#c5112e"/>
<text x="147.20" y="513.58" font-size="6.9" textLength="53.30" lengthAdjust="spacingAndGlyphs">WT plts+ PMX<tspan font-size="6.1">ctrl</tspan></text>
<rect x="138.60" y="522.30" width="5.30" height="5.30" fill="#f39208"/>
<text x="147.20" y="527.48" font-size="6.9" textLength="73.20" lengthAdjust="spacingAndGlyphs">C5aR1<tspan dy="-2.7" font-size="4.6">−/−</tspan><tspan dy="2.7"> plts + PMX</tspan><tspan font-size="6.1">ctrl</tspan></text>
<rect x="138.60" y="535.80" width="5.30" height="5.30" fill="#0f6b50"/>
<text x="147.20" y="540.98" font-size="6.9" textLength="56.00" lengthAdjust="spacingAndGlyphs">WT plts + PMX53</text>
<text x="132.40" y="517.28" font-size="6.9" text-anchor="end" textLength="24.60" lengthAdjust="spacingAndGlyphs">Matrigel</text>
<text x="132.40" y="526.48" font-size="6.9" text-anchor="end" textLength="45.20" lengthAdjust="spacingAndGlyphs">supplemented</text>
<text x="132.40" y="535.38" font-size="6.9" text-anchor="end" textLength="14.80" lengthAdjust="spacingAndGlyphs">with:</text>
<text x="399.30" y="383.90" font-size="10.0" font-weight="bold" textLength="6.54" lengthAdjust="spacingAndGlyphs" fill="#000" stroke="#000" stroke-width="0.35">L</text>
<line x1="435.40" y1="390.30" x2="435.40" y2="499.55" stroke="#111" stroke-width="1.15"/>
<line x1="432.40" y1="393.20" x2="435.40" y2="393.20" stroke="#1a1a1a" stroke-width="0.85"/>
<text x="430.00" y="395.76" font-size="7.1" text-anchor="end" textLength="16.35" lengthAdjust="spacingAndGlyphs">1500</text>
<line x1="432.40" y1="428.50" x2="435.40" y2="428.50" stroke="#1a1a1a" stroke-width="0.85"/>
<text x="430.00" y="431.06" font-size="7.1" text-anchor="end" textLength="16.35" lengthAdjust="spacingAndGlyphs">1000</text>
<line x1="432.40" y1="463.70" x2="435.40" y2="463.70" stroke="#1a1a1a" stroke-width="0.85"/>
<text x="430.00" y="466.26" font-size="7.1" text-anchor="end" textLength="12.95" lengthAdjust="spacingAndGlyphs">500</text>
<line x1="432.40" y1="499.00" x2="435.40" y2="499.00" stroke="#1a1a1a" stroke-width="0.85"/>
<text x="430.00" y="501.56" font-size="7.1" text-anchor="end" textLength="4.05" lengthAdjust="spacingAndGlyphs">0</text>
<line x1="432.60" y1="499.00" x2="506.00" y2="499.00" stroke="#111" stroke-width="1.15"/>
<line x1="446.70" y1="499.00" x2="446.70" y2="501.80" stroke="#1a1a1a" stroke-width="0.85"/>
<line x1="462.40" y1="499.00" x2="462.40" y2="501.80" stroke="#1a1a1a" stroke-width="0.85"/>
<line x1="479.20" y1="499.00" x2="479.20" y2="501.80" stroke="#1a1a1a" stroke-width="0.85"/>
<line x1="495.20" y1="499.00" x2="495.20" y2="501.80" stroke="#1a1a1a" stroke-width="0.85"/>
<line x1="446.70" y1="490.60" x2="446.70" y2="494.00" stroke="#c5112e" stroke-width="1.0"/>
<line x1="443.70" y1="490.60" x2="449.70" y2="490.60" stroke="#c5112e" stroke-width="0.95"/>
<rect x="441.90" y="493.50" width="9.60" height="5.50" fill="#c5112e"/>
<line x1="462.40" y1="483.20" x2="462.40" y2="485.60" stroke="#17498a" stroke-width="1.0"/>
<line x1="459.40" y1="483.20" x2="465.40" y2="483.20" stroke="#17498a" stroke-width="0.95"/>
<rect x="457.60" y="485.10" width="9.60" height="13.90" fill="#17498a"/>
<line x1="479.20" y1="426.10" x2="479.20" y2="443.30" stroke="#0f6b50" stroke-width="1.0"/>
<line x1="476.20" y1="426.10" x2="482.20" y2="426.10" stroke="#0f6b50" stroke-width="0.95"/>
<rect x="474.40" y="442.80" width="9.60" height="56.20" fill="#0f6b50"/>
<line x1="495.20" y1="413.00" x2="495.20" y2="431.40" stroke="#2ba6de" stroke-width="1.0"/>
<line x1="492.20" y1="413.00" x2="498.20" y2="413.00" stroke="#2ba6de" stroke-width="0.95"/>
<rect x="490.40" y="430.90" width="9.60" height="68.10" fill="#2ba6de"/>
<text x="452.90" y="475.72" font-size="7" text-anchor="middle">ns</text>
<line x1="444.50" y1="478.40" x2="462.40" y2="478.40" stroke="#222" stroke-width="1.0"/>
<text x="479.00" y="424.49" font-size="6.5" text-anchor="middle" fill="#000" stroke="#000" stroke-width="0.1">*</text>
<text x="495.20" y="411.39" font-size="6.5" text-anchor="middle" fill="#000" stroke="#000" stroke-width="0.1">*</text>
<text transform="translate(404.30 445.30) rotate(-90)" y="2.81" font-size="7.8" text-anchor="middle" textLength="70.00" lengthAdjust="spacingAndGlyphs" stroke="#1a1a1a" stroke-width="0.2">CXCL4 release (% of ctrl)</text>
<rect x="429.10" y="509.90" width="5.30" height="5.30" fill="#c5112e"/>
<text x="437.40" y="515.09" font-size="7.2" textLength="22.40" lengthAdjust="spacingAndGlyphs">unstim.</text>
<rect x="472.20" y="509.90" width="5.30" height="5.30" fill="#0f6b50"/>
<text x="480.50" y="515.09" font-size="7.2" textLength="33.00" lengthAdjust="spacingAndGlyphs">200 ng/ml</text>
<text x="480.50" y="523.59" font-size="7.2" textLength="13.20" lengthAdjust="spacingAndGlyphs">C5a</text>
<rect x="429.10" y="529.80" width="5.30" height="5.30" fill="#17498a"/>
<text x="437.40" y="534.99" font-size="7.2" textLength="28.60" lengthAdjust="spacingAndGlyphs">20 ng/ml</text>
<text x="437.40" y="543.69" font-size="7.2" textLength="13.20" lengthAdjust="spacingAndGlyphs">C5a</text>
<rect x="472.20" y="529.80" width="5.30" height="5.30" fill="#2ba6de"/>
<text x="480.50" y="534.99" font-size="7.2" textLength="33.00" lengthAdjust="spacingAndGlyphs">500 ng/ml</text>
<text x="480.50" y="543.69" font-size="7.2" textLength="13.20" lengthAdjust="spacingAndGlyphs">C5a</text>
<text x="246.05" y="195.40" font-size="10.0" font-weight="bold" textLength="8.32" lengthAdjust="spacingAndGlyphs" fill="#000" stroke="#000" stroke-width="0.35">G</text>
<text x="257.60" y="214.63" font-size="7.3" textLength="12.80" lengthAdjust="spacingAndGlyphs">MW</text>
<text x="256.20" y="223.63" font-size="7.3" textLength="15.80" lengthAdjust="spacingAndGlyphs">(kDa)</text>
<line x1="273.40" y1="232.20" x2="276.00" y2="232.20" stroke="#1a1a1a" stroke-width="0.85"/>
<text x="270.60" y="234.76" font-size="7.1" text-anchor="end" textLength="11.90" lengthAdjust="spacingAndGlyphs">140</text>
<line x1="273.40" y1="248.00" x2="276.00" y2="248.00" stroke="#1a1a1a" stroke-width="0.85"/>
<text x="270.60" y="250.56" font-size="7.1" text-anchor="end" textLength="11.90" lengthAdjust="spacingAndGlyphs">100</text>
<line x1="273.40" y1="262.60" x2="276.00" y2="262.60" stroke="#1a1a1a" stroke-width="0.85"/>
<text x="270.60" y="265.16" font-size="7.1" text-anchor="end" textLength="8.50" lengthAdjust="spacingAndGlyphs">70</text>
<line x1="273.40" y1="281.60" x2="276.00" y2="281.60" stroke="#1a1a1a" stroke-width="0.85"/>
<text x="270.60" y="284.16" font-size="7.1" text-anchor="end" textLength="8.50" lengthAdjust="spacingAndGlyphs">50</text>
<line x1="273.40" y1="293.00" x2="276.00" y2="293.00" stroke="#1a1a1a" stroke-width="0.85"/>
<text x="270.60" y="295.56" font-size="7.1" text-anchor="end" textLength="8.50" lengthAdjust="spacingAndGlyphs">40</text>
<line x1="273.40" y1="305.60" x2="276.00" y2="305.60" stroke="#1a1a1a" stroke-width="0.85"/>
<text x="270.60" y="308.16" font-size="7.1" text-anchor="end" textLength="8.50" lengthAdjust="spacingAndGlyphs">35</text>
<line x1="273.40" y1="316.00" x2="276.00" y2="316.00" stroke="#1a1a1a" stroke-width="0.85"/>
<text x="270.60" y="318.56" font-size="7.1" text-anchor="end" textLength="8.50" lengthAdjust="spacingAndGlyphs">25</text>
<g clip-path="url(#cG1)">
<rect x="276.00" y="226.60" width="40.60" height="96.80" fill="#fefefe"/>
<rect x="298.5" y="238" width="15" height="34" fill="#777" opacity="0.17" filter="url(#b2)"/>
<rect x="281" y="246" width="14" height="24" fill="#888" opacity="0.08" filter="url(#b2)"/>
<rect x="298.5" y="284" width="15" height="14" fill="#888" opacity="0.10" filter="url(#b2)"/>
<path d="M281.0 239.20 Q288.0 239.20 295.0 239.20" fill="none" stroke="#111" stroke-opacity="0.1" stroke-width="1.2" stroke-linecap="round" filter="url(#b1)"/>
<path d="M299.0 238.40 Q306.0 238.40 313.0 238.40" fill="none" stroke="#111" stroke-opacity="0.17" stroke-width="1.5" stroke-linecap="round" filter="url(#b1)"/>
<path d="M281.5 250.80 Q288.0 248.80 294.5 250.80" fill="none" stroke="#111" stroke-opacity="0.55" stroke-width="3.0" stroke-linecap="round" filter="url(#b1)"/>
<path d="M299.0 248.90 Q306.1 247.90 313.2 248.90" fill="none" stroke="#111" stroke-opacity="0.97" stroke-width="3.0" stroke-linecap="round" filter="url(#b05)"/>
<path d="M282.0 255.40 Q288.0 255.40 294.0 255.40" fill="none" stroke="#111" stroke-opacity="0.2" stroke-width="2.0" stroke-linecap="round" filter="url(#b1)"/>
<path d="M299.5 254.40 Q306.0 254.40 312.5 254.40" fill="none" stroke="#111" stroke-opacity="0.5" stroke-width="2.6" stroke-linecap="round" filter="url(#b1)"/>
<path d="M281.0 260.80 Q288.0 260.80 295.0 260.80" fill="none" stroke="#111" stroke-opacity="0.85" stroke-width="1.9" stroke-linecap="round" filter="url(#b05)"/>
<path d="M299.0 260.50 Q306.2 260.20 313.5 259.90" fill="none" stroke="#111" stroke-opacity="0.95" stroke-width="2.2" stroke-linecap="round" filter="url(#b05)"/>
<path d="M282.0 266.50 Q288.0 268.30 294.0 266.50" fill="none" stroke="#111" stroke-opacity="0.3" stroke-width="2.0" stroke-linecap="round" filter="url(#b1)"/>
<path d="M300.0 266.60 Q306.5 267.80 313.0 266.60" fill="none" stroke="#111" stroke-opacity="0.58" stroke-width="2.6" stroke-linecap="round" filter="url(#b1)"/>
<path d="M279.6 291.60 Q286.8 291.60 294.0 291.60" fill="none" stroke="#111" stroke-opacity="1" stroke-width="3.8" stroke-linecap="round" filter="url(#b05)"/>
<path d="M299.2 291.05 Q306.5 290.60 313.8 290.15" fill="none" stroke="#111" stroke-opacity="1" stroke-width="4.3" stroke-linecap="round" filter="url(#b05)"/>
<path d="M300.0 296.60 Q305.0 296.60 310.0 296.60" fill="none" stroke="#111" stroke-opacity="0.12" stroke-width="1.2" stroke-linecap="round" filter="url(#b1)"/>
<path d="M281.0 313.40 Q287.2 313.20 293.5 313.00" fill="none" stroke="#111" stroke-opacity="0.2" stroke-width="1.1" stroke-linecap="round" filter="url(#b05)"/>
<path d="M299.5 312.50 Q305.8 312.00 312.0 311.50" fill="none" stroke="#111" stroke-opacity="0.5" stroke-width="1.5" stroke-linecap="round" filter="url(#b05)"/>
</g>
<rect x="276" y="226.6" width="40.6" height="96.8" fill="none" stroke="#111" stroke-width="1.15"/>
<g clip-path="url(#cG2)">
<path d="M279.0 334.50 Q286.5 334.50 294.0 334.50" fill="none" stroke="#111" stroke-opacity="1" stroke-width="2.2" stroke-linecap="round" filter="url(#b05)"/>
<path d="M297.6 334.15 Q305.4 333.90 313.2 333.65" fill="none" stroke="#111" stroke-opacity="1" stroke-width="2.3" stroke-linecap="round" filter="url(#b05)"/>
</g>
<rect x="276" y="329.6" width="40.6" height="10" fill="none" stroke="#111" stroke-width="1.15"/>
<text x="320.00" y="277.63" font-size="7.3" textLength="23.60" lengthAdjust="spacingAndGlyphs">phospo</text>
<text x="320.00" y="286.03" font-size="7.3" textLength="14.60" lengthAdjust="spacingAndGlyphs">PKC</text>
<text x="320.00" y="293.03" font-size="7.3" textLength="29.00" lengthAdjust="spacingAndGlyphs">substrate</text>
<text x="320.00" y="337.23" font-size="7.3" textLength="32.00" lengthAdjust="spacingAndGlyphs">alphaPKC</text>
<text x="257.00" y="353.63" font-size="7.3" textLength="13.00" lengthAdjust="spacingAndGlyphs">C5a</text>
<text x="286.60" y="353.30" font-size="7.5" text-anchor="middle">−</text>
<text x="305.40" y="353.50" font-size="7.5" text-anchor="middle">+</text>
<text x="6.05" y="383.90" font-size="10.0" font-weight="bold" textLength="2.97" lengthAdjust="spacingAndGlyphs" fill="#000" stroke="#000" stroke-width="0.35">I</text>
<g>
<path d="M21.3 423.30 Q28.6 423.30 36.0 423.30" fill="none" stroke="#111" stroke-opacity="0.36" stroke-width="1.1" stroke-linecap="round" filter="url(#b05)"/>
<path d="M41.2 424.00 Q47.9 424.00 54.6 424.00" fill="none" stroke="#111" stroke-opacity="0.8" stroke-width="1.7" stroke-linecap="round" filter="url(#b05)"/>
<path d="M46.0 424.10 Q50.0 424.10 54.0 424.10" fill="none" stroke="#111" stroke-opacity="0.6" stroke-width="1.6" stroke-linecap="round" filter="url(#b05)"/>
<path d="M22.6 449.70 Q28.9 449.70 35.2 449.70" fill="none" stroke="#111" stroke-opacity="0.42" stroke-width="4.4" stroke-linecap="round" filter="url(#b1)"/>
<path d="M22.6 451.20 Q29.0 451.20 35.4 451.20" fill="none" stroke="#111" stroke-opacity="0.25" stroke-width="1.6" stroke-linecap="round" filter="url(#b1)"/>
<path d="M42.0 448.20 Q47.7 448.20 53.4 448.20" fill="none" stroke="#111" stroke-opacity="0.44" stroke-width="4.6" stroke-linecap="round" filter="url(#b1)"/>
<path d="M42.0 446.80 Q47.5 446.80 53.0 446.80" fill="none" stroke="#111" stroke-opacity="0.15" stroke-width="1.6" stroke-linecap="round" filter="url(#b1)"/>
<ellipse cx="29.4" cy="468.8" rx="8.3" ry="4.0" fill="#050505" filter="url(#b05)"/>
<ellipse cx="45.8" cy="468.7" rx="7.1" ry="3.5" fill="#050505" filter="url(#b05)"/>
<rect x="30" y="466.4" width="15" height="4.6" fill="#050505" filter="url(#b05)"/>
<path d="M22.0 492.50 Q28.8 492.50 35.6 492.50" fill="none" stroke="#111" stroke-opacity="1" stroke-width="2.7" stroke-linecap="round" filter="url(#b05)"/>
<path d="M41.2 492.20 Q47.6 492.20 54.0 492.20" fill="none" stroke="#111" stroke-opacity="1" stroke-width="2.9" stroke-linecap="round" filter="url(#b05)"/>
</g>
<rect x="17.4" y="413.3" width="40.1" height="21.0" fill="none" stroke="#111" stroke-width="1.2"/>
<rect x="17.4" y="437.5" width="40.1" height="20.8" fill="none" stroke="#111" stroke-width="1.2"/>
<rect x="17.4" y="459.9" width="40.1" height="16.8" fill="none" stroke="#111" stroke-width="1.2"/>
<rect x="17.4" y="482.5" width="40.1" height="16.8" fill="none" stroke="#111" stroke-width="1.2"/>
<text x="60.30" y="426.13" font-size="7.3" textLength="17.00" lengthAdjust="spacingAndGlyphs">pAKT</text>
<text x="60.30" y="448.93" font-size="7.3" textLength="12.60" lengthAdjust="spacingAndGlyphs">AKT</text>
<text x="60.30" y="471.63" font-size="7.3" textLength="22.40" lengthAdjust="spacingAndGlyphs">β-Actin</text>
<text x="60.30" y="493.63" font-size="7.3" textLength="24.00" lengthAdjust="spacingAndGlyphs">HSP90</text>
<text x="6.50" y="509.23" font-size="7.3" textLength="13.40" lengthAdjust="spacingAndGlyphs">C5a</text>
<text x="28.30" y="508.90" font-size="7.5" text-anchor="middle">−</text>
<text x="47.90" y="509.10" font-size="7.5" text-anchor="middle">+</text>
<text x="235.55" y="383.90" font-size="10.0" font-weight="bold" textLength="7.73" lengthAdjust="spacingAndGlyphs" fill="#000" stroke="#000" stroke-width="0.35">K</text>
<text transform="translate(252.30 423.40) rotate(-90)" y="2.38" font-size="6.6" text-anchor="middle" textLength="20.80" lengthAdjust="spacingAndGlyphs">control</text>
<text transform="translate(239.80 449.00) rotate(-90)" y="3.17" font-size="8.8" text-anchor="middle" textLength="23.60" lengthAdjust="spacingAndGlyphs" stroke="#1a1a1a" stroke-width="0.25">WT plts.</text>
<text transform="translate(252.30 477.00) rotate(-90)" y="2.38" font-size="6.6" text-anchor="middle" textLength="26.60" lengthAdjust="spacingAndGlyphs">C5a stim.</text>
<text x="335.90" y="403.59" font-size="7.2" textLength="24.00" lengthAdjust="spacingAndGlyphs">CXCL4</text>
<text x="335.90" y="461.79" font-size="7.2" textLength="24.00" lengthAdjust="spacingAndGlyphs">CXCL4</text>
<rect x="258" y="404" width="124" height="36" fill="#f9fbfd" filter="url(#b3)"/>
<rect x="258" y="462" width="125" height="36" fill="#f9fbfd" filter="url(#b3)"/>
<g filter="url(#d1)"><circle cx="297.0" cy="408.8" r="1.25" fill="#4f7fae" fill-opacity="0.20"/><circle cx="301.7" cy="408.8" r="1.25" fill="#4f7fae" fill-opacity="0.20"/><circle cx="306.8" cy="408.8" r="1.25" fill="#4f7fae" fill-opacity="0.21"/><circle cx="311.5" cy="408.8" r="1.25" fill="#4f7fae" fill-opacity="0.21"/><circle cx="333.9" cy="408.8" r="1.20" fill="#4f7fae" fill-opacity="0.11"/><circle cx="340.9" cy="408.8" r="1.25" fill="#4f7fae" fill-opacity="0.11"/><circle cx="345.6" cy="408.8" r="1.25" fill="#4f7fae" fill-opacity="0.11"/><circle cx="351.0" cy="408.8" r="1.25" fill="#4f7fae" fill-opacity="0.11"/><circle cx="355.6" cy="408.8" r="1.25" fill="#4f7fae" fill-opacity="0.11"/><circle cx="275.2" cy="415.4" r="1.25" fill="#4f7fae" fill-opacity="0.12"/><circle cx="279.7" cy="415.4" r="1.25" fill="#4f7fae" fill-opacity="0.12"/><circle cx="284.7" cy="415.4" r="1.25" fill="#4f7fae" fill-opacity="0.09"/><circle cx="289.6" cy="415.4" r="1.25" fill="#4f7fae" fill-opacity="0.09"/><circle cx="297.0" cy="415.4" r="1.30" fill="#4f7fae" fill-opacity="0.57"/><circle cx="301.7" cy="415.4" r="1.30" fill="#4f7fae" fill-opacity="0.57"/><circle cx="340.9" cy="415.4" r="1.25" fill="#4f7fae" fill-opacity="0.45"/><circle cx="345.6" cy="415.4" r="1.25" fill="#4f7fae" fill-opacity="0.45"/><circle cx="351.0" cy="415.4" r="1.25" fill="#4f7fae" fill-opacity="0.45"/><circle cx="355.6" cy="415.4" r="1.25" fill="#4f7fae" fill-opacity="0.45"/><circle cx="275.2" cy="420.0" r="1.25" fill="#4f7fae" fill-opacity="0.30"/><circle cx="279.7" cy="420.0" r="1.25" fill="#4f7fae" fill-opacity="0.30"/><circle cx="284.7" cy="420.0" r="1.25" fill="#4f7fae" fill-opacity="0.12"/><circle cx="289.6" cy="420.0" r="1.25" fill="#4f7fae" fill-opacity="0.12"/><circle cx="306.8" cy="420.0" r="1.30" fill="#243a6a" fill-opacity="0.65"/><circle cx="311.5" cy="420.0" r="1.30" fill="#243a6a" fill-opacity="0.78"/><circle cx="318.8" cy="420.0" r="1.25" fill="#4f7fae" fill-opacity="0.30"/><circle cx="323.7" cy="420.0" r="1.25" fill="#4f7fae" fill-opacity="0.30"/><circle cx="329.2" cy="420.0" r="1.30" fill="#243a6a" fill-opacity="0.70"/><circle cx="333.9" cy="420.0" r="1.35" fill="#243a6a" fill-opacity="0.88"/><circle cx="361.7" cy="420.0" r="1.25" fill="#4f7fae" fill-opacity="0.14"/><circle cx="366.4" cy="420.0" r="1.25" fill="#4f7fae" fill-opacity="0.14"/><circle cx="275.2" cy="424.4" r="1.25" fill="#4f7fae" fill-opacity="0.30"/><circle cx="279.7" cy="424.4" r="1.25" fill="#4f7fae" fill-opacity="0.30"/><circle cx="297.0" cy="424.4" r="1.25" fill="#4f7fae" fill-opacity="0.45"/><circle cx="301.7" cy="424.4" r="1.25" fill="#4f7fae" fill-opacity="0.54"/><circle cx="306.8" cy="424.4" r="1.25" fill="#243a6a" fill-opacity="0.62"/><circle cx="311.5" cy="424.4" r="1.25" fill="#243a6a" fill-opacity="0.62"/><circle cx="318.8" cy="424.4" r="1.25" fill="#4f7fae" fill-opacity="0.11"/><circle cx="323.7" cy="424.4" r="1.25" fill="#4f7fae" fill-opacity="0.11"/><circle cx="329.2" cy="424.4" r="1.25" fill="#4f7fae" fill-opacity="0.15"/><circle cx="333.9" cy="424.4" r="1.25" fill="#4f7fae" fill-opacity="0.15"/><circle cx="340.9" cy="424.4" r="1.25" fill="#4f7fae" fill-opacity="0.30"/><circle cx="345.6" cy="424.4" r="1.25" fill="#4f7fae" fill-opacity="0.30"/><circle cx="351.0" cy="424.4" r="1.25" fill="#4f7fae" fill-opacity="0.30"/><circle cx="355.6" cy="424.4" r="1.25" fill="#4f7fae" fill-opacity="0.30"/><circle cx="361.7" cy="424.4" r="1.25" fill="#4f7fae" fill-opacity="0.30"/><circle cx="366.4" cy="424.4" r="1.25" fill="#4f7fae" fill-opacity="0.30"/><circle cx="371.5" cy="424.4" r="1.25" fill="#4f7fae" fill-opacity="0.30"/><circle cx="376.3" cy="424.4" r="1.25" fill="#4f7fae" fill-opacity="0.30"/><circle cx="284.7" cy="429.3" r="1.25" fill="#4f7fae" fill-opacity="0.39"/><circle cx="289.6" cy="429.3" r="1.25" fill="#4f7fae" fill-opacity="0.30"/><circle cx="297.0" cy="429.3" r="1.30" fill="#243a6a" fill-opacity="0.70"/><circle cx="301.7" cy="429.3" r="1.30" fill="#243a6a" fill-opacity="0.82"/><circle cx="318.8" cy="429.3" r="1.20" fill="#4f7fae" fill-opacity="0.22"/><circle cx="323.7" cy="429.3" r="1.20" fill="#4f7fae" fill-opacity="0.39"/><circle cx="340.9" cy="429.3" r="1.25" fill="#4f7fae" fill-opacity="0.18"/><circle cx="345.6" cy="429.3" r="1.25" fill="#4f7fae" fill-opacity="0.18"/><circle cx="351.0" cy="429.3" r="1.25" fill="#4f7fae" fill-opacity="0.18"/><circle cx="355.6" cy="429.3" r="1.25" fill="#4f7fae" fill-opacity="0.18"/><circle cx="284.7" cy="435.6" r="1.25" fill="#4f7fae" fill-opacity="0.15"/><circle cx="289.6" cy="435.6" r="1.25" fill="#4f7fae" fill-opacity="0.15"/><circle cx="297.0" cy="435.6" r="1.25" fill="#4f7fae" fill-opacity="0.39"/><circle cx="301.7" cy="435.6" r="1.25" fill="#4f7fae" fill-opacity="0.48"/><circle cx="306.8" cy="435.6" r="1.25" fill="#4f7fae" fill-opacity="0.22"/><circle cx="311.5" cy="435.6" r="1.25" fill="#4f7fae" fill-opacity="0.22"/><circle cx="318.8" cy="435.6" r="1.25" fill="#4f7fae" fill-opacity="0.12"/><circle cx="323.7" cy="435.6" r="1.25" fill="#4f7fae" fill-opacity="0.12"/><circle cx="329.2" cy="435.6" r="1.25" fill="#4f7fae" fill-opacity="0.09"/><circle cx="333.9" cy="435.6" r="1.25" fill="#4f7fae" fill-opacity="0.09"/><circle cx="340.9" cy="435.6" r="1.25" fill="#4f7fae" fill-opacity="0.09"/><circle cx="345.6" cy="435.6" r="1.25" fill="#4f7fae" fill-opacity="0.09"/><circle cx="351.0" cy="435.6" r="1.25" fill="#4f7fae" fill-opacity="0.09"/><circle cx="355.6" cy="435.6" r="1.25" fill="#4f7fae" fill-opacity="0.09"/></g>
<g filter="url(#d0)"><circle cx="262.8" cy="408.8" r="2.40" fill="#0d0c38" fill-opacity="1.00"/><circle cx="268.0" cy="408.8" r="2.40" fill="#0d0c38" fill-opacity="1.00"/><circle cx="318.8" cy="408.8" r="1.30" fill="#0d0c38" fill-opacity="0.90"/><circle cx="323.7" cy="408.8" r="1.30" fill="#0d0c38" fill-opacity="0.82"/><circle cx="371.5" cy="408.8" r="2.40" fill="#0d0c38" fill-opacity="1.00"/><circle cx="376.3" cy="408.8" r="2.40" fill="#0d0c38" fill-opacity="1.00"/><circle cx="329.2" cy="415.4" r="1.35" fill="#0d0c38" fill-opacity="0.92"/><circle cx="333.9" cy="415.4" r="1.35" fill="#0d0c38" fill-opacity="0.92"/><circle cx="361.7" cy="415.4" r="1.40" fill="#0d0c38" fill-opacity="0.92"/><circle cx="366.4" cy="415.4" r="1.40" fill="#0d0c38" fill-opacity="0.92"/><circle cx="340.9" cy="420.0" r="2.00" fill="#0d0c38" fill-opacity="1.00"/><circle cx="345.6" cy="420.0" r="1.85" fill="#0d0c38" fill-opacity="1.00"/><circle cx="351.0" cy="420.0" r="2.25" fill="#0d0c38" fill-opacity="1.00"/><circle cx="355.6" cy="420.0" r="2.25" fill="#0d0c38" fill-opacity="1.00"/><circle cx="275.2" cy="429.3" r="1.90" fill="#0d0c38" fill-opacity="1.00"/><circle cx="279.7" cy="429.3" r="1.90" fill="#0d0c38" fill-opacity="1.00"/><circle cx="306.8" cy="429.3" r="1.35" fill="#0d0c38" fill-opacity="0.78"/><circle cx="311.5" cy="429.3" r="1.35" fill="#0d0c38" fill-opacity="0.82"/><circle cx="329.2" cy="429.3" r="2.95" fill="#0d0c38" fill-opacity="1.00"/><circle cx="333.9" cy="429.3" r="2.95" fill="#0d0c38" fill-opacity="1.00"/><circle cx="262.8" cy="435.6" r="2.40" fill="#0d0c38" fill-opacity="1.00"/><circle cx="268.0" cy="435.6" r="2.40" fill="#0d0c38" fill-opacity="1.00"/><circle cx="275.2" cy="435.6" r="1.55" fill="#0d0c38" fill-opacity="0.96"/><circle cx="279.7" cy="435.6" r="1.45" fill="#0d0c38" fill-opacity="0.92"/></g>
<g filter="url(#d1)"><circle cx="286.0" cy="467.0" r="1.25" fill="#4f7fae" fill-opacity="0.09"/><circle cx="290.7" cy="467.0" r="1.25" fill="#4f7fae" fill-opacity="0.09"/><circle cx="298.0" cy="467.0" r="1.25" fill="#4f7fae" fill-opacity="0.30"/><circle cx="302.8" cy="467.0" r="1.25" fill="#4f7fae" fill-opacity="0.30"/><circle cx="307.8" cy="467.0" r="1.25" fill="#4f7fae" fill-opacity="0.39"/><circle cx="312.6" cy="467.0" r="1.25" fill="#4f7fae" fill-opacity="0.30"/><circle cx="341.7" cy="467.0" r="1.25" fill="#4f7fae" fill-opacity="0.09"/><circle cx="346.4" cy="467.0" r="1.25" fill="#4f7fae" fill-opacity="0.09"/><circle cx="276.5" cy="473.8" r="1.25" fill="#4f7fae" fill-opacity="0.12"/><circle cx="281.2" cy="473.8" r="1.25" fill="#4f7fae" fill-opacity="0.12"/><circle cx="286.0" cy="473.8" r="1.25" fill="#4f7fae" fill-opacity="0.09"/><circle cx="290.7" cy="473.8" r="1.25" fill="#4f7fae" fill-opacity="0.09"/><circle cx="298.0" cy="473.8" r="1.30" fill="#243a6a" fill-opacity="0.66"/><circle cx="302.8" cy="473.8" r="1.30" fill="#243a6a" fill-opacity="0.78"/><circle cx="319.8" cy="473.8" r="1.20" fill="#4f7fae" fill-opacity="0.22"/><circle cx="324.6" cy="473.8" r="1.20" fill="#4f7fae" fill-opacity="0.15"/><circle cx="341.7" cy="473.8" r="1.25" fill="#4f7fae" fill-opacity="0.33"/><circle cx="346.4" cy="473.8" r="1.25" fill="#4f7fae" fill-opacity="0.33"/><circle cx="351.8" cy="473.8" r="1.25" fill="#4f7fae" fill-opacity="0.33"/><circle cx="356.3" cy="473.8" r="1.25" fill="#4f7fae" fill-opacity="0.33"/><circle cx="276.5" cy="478.4" r="1.25" fill="#4f7fae" fill-opacity="0.22"/><circle cx="281.2" cy="478.4" r="1.25" fill="#4f7fae" fill-opacity="0.22"/><circle cx="286.0" cy="478.4" r="1.25" fill="#4f7fae" fill-opacity="0.15"/><circle cx="290.7" cy="478.4" r="1.25" fill="#4f7fae" fill-opacity="0.15"/><circle cx="307.8" cy="478.4" r="1.30" fill="#243a6a" fill-opacity="0.70"/><circle cx="312.6" cy="478.4" r="1.30" fill="#243a6a" fill-opacity="0.66"/><circle cx="319.8" cy="478.4" r="1.25" fill="#4f7fae" fill-opacity="0.45"/><circle cx="324.6" cy="478.4" r="1.25" fill="#4f7fae" fill-opacity="0.30"/><circle cx="329.6" cy="478.4" r="1.25" fill="#4f7fae" fill-opacity="0.54"/><circle cx="334.0" cy="478.4" r="1.25" fill="#4f7fae" fill-opacity="0.54"/><circle cx="363.7" cy="478.4" r="1.25" fill="#4f7fae" fill-opacity="0.12"/><circle cx="368.5" cy="478.4" r="1.25" fill="#4f7fae" fill-opacity="0.12"/><circle cx="276.5" cy="482.8" r="1.25" fill="#4f7fae" fill-opacity="0.22"/><circle cx="281.2" cy="482.8" r="1.25" fill="#4f7fae" fill-opacity="0.22"/><circle cx="298.0" cy="482.8" r="1.30" fill="#243a6a" fill-opacity="0.70"/><circle cx="302.8" cy="482.8" r="1.30" fill="#243a6a" fill-opacity="0.82"/><circle cx="307.8" cy="482.8" r="1.30" fill="#243a6a" fill-opacity="0.66"/><circle cx="312.6" cy="482.8" r="1.30" fill="#243a6a" fill-opacity="0.70"/><circle cx="341.7" cy="482.8" r="1.25" fill="#4f7fae" fill-opacity="0.15"/><circle cx="346.4" cy="482.8" r="1.25" fill="#4f7fae" fill-opacity="0.15"/><circle cx="351.8" cy="482.8" r="1.25" fill="#4f7fae" fill-opacity="0.15"/><circle cx="356.3" cy="482.8" r="1.25" fill="#4f7fae" fill-opacity="0.15"/><circle cx="363.7" cy="482.8" r="1.25" fill="#4f7fae" fill-opacity="0.27"/><circle cx="368.5" cy="482.8" r="1.25" fill="#4f7fae" fill-opacity="0.27"/><circle cx="373.2" cy="482.8" r="1.25" fill="#4f7fae" fill-opacity="0.27"/><circle cx="378.1" cy="482.8" r="1.25" fill="#4f7fae" fill-opacity="0.27"/><circle cx="286.0" cy="487.5" r="1.30" fill="#4f7fae" fill-opacity="0.48"/><circle cx="290.7" cy="487.5" r="1.25" fill="#4f7fae" fill-opacity="0.30"/><circle cx="319.8" cy="487.5" r="1.20" fill="#4f7fae" fill-opacity="0.30"/><circle cx="324.6" cy="487.5" r="1.20" fill="#4f7fae" fill-opacity="0.22"/><circle cx="341.7" cy="487.5" r="1.25" fill="#4f7fae" fill-opacity="0.15"/><circle cx="346.4" cy="487.5" r="1.25" fill="#4f7fae" fill-opacity="0.15"/><circle cx="351.8" cy="487.5" r="1.25" fill="#4f7fae" fill-opacity="0.15"/><circle cx="356.3" cy="487.5" r="1.25" fill="#4f7fae" fill-opacity="0.15"/><circle cx="286.0" cy="493.7" r="1.25" fill="#4f7fae" fill-opacity="0.22"/><circle cx="290.7" cy="493.7" r="1.25" fill="#4f7fae" fill-opacity="0.22"/><circle cx="298.0" cy="493.7" r="1.25" fill="#4f7fae" fill-opacity="0.18"/><circle cx="302.8" cy="493.7" r="1.25" fill="#4f7fae" fill-opacity="0.18"/><circle cx="307.8" cy="493.7" r="1.25" fill="#4f7fae" fill-opacity="0.18"/><circle cx="312.6" cy="493.7" r="1.25" fill="#4f7fae" fill-opacity="0.18"/><circle cx="319.8" cy="493.7" r="1.25" fill="#4f7fae" fill-opacity="0.09"/><circle cx="324.6" cy="493.7" r="1.25" fill="#4f7fae" fill-opacity="0.09"/></g>
<g filter="url(#d0)"><circle cx="264.2" cy="467.0" r="2.40" fill="#0d0c38" fill-opacity="1.00"/><circle cx="269.1" cy="467.0" r="2.40" fill="#0d0c38" fill-opacity="1.00"/><circle cx="319.8" cy="467.0" r="1.70" fill="#0d0c38" fill-opacity="0.97"/><circle cx="324.6" cy="467.0" r="1.70" fill="#0d0c38" fill-opacity="0.92"/><circle cx="373.2" cy="467.0" r="2.40" fill="#0d0c38" fill-opacity="1.00"/><circle cx="378.1" cy="467.0" r="2.40" fill="#0d0c38" fill-opacity="1.00"/><circle cx="329.6" cy="473.8" r="1.45" fill="#0d0c38" fill-opacity="0.88"/><circle cx="334.0" cy="473.8" r="1.45" fill="#0d0c38" fill-opacity="0.88"/><circle cx="363.7" cy="473.8" r="1.45" fill="#0d0c38" fill-opacity="0.96"/><circle cx="368.5" cy="473.8" r="1.45" fill="#0d0c38" fill-opacity="0.96"/><circle cx="341.7" cy="478.4" r="1.95" fill="#0d0c38" fill-opacity="1.00"/><circle cx="346.4" cy="478.4" r="1.95" fill="#0d0c38" fill-opacity="1.00"/><circle cx="351.8" cy="478.4" r="2.35" fill="#0d0c38" fill-opacity="1.00"/><circle cx="356.3" cy="478.4" r="2.35" fill="#0d0c38" fill-opacity="1.00"/><circle cx="276.5" cy="487.5" r="2.50" fill="#0d0c38" fill-opacity="1.00"/><circle cx="281.2" cy="487.5" r="2.50" fill="#0d0c38" fill-opacity="1.00"/><circle cx="298.0" cy="487.5" r="1.90" fill="#0d0c38" fill-opacity="1.00"/><circle cx="302.8" cy="487.5" r="1.90" fill="#0d0c38" fill-opacity="1.00"/><circle cx="307.8" cy="487.5" r="1.90" fill="#0d0c38" fill-opacity="1.00"/><circle cx="312.6" cy="487.5" r="1.90" fill="#0d0c38" fill-opacity="1.00"/><circle cx="329.6" cy="487.5" r="2.95" fill="#0d0c38" fill-opacity="1.00"/><circle cx="334.0" cy="487.5" r="2.95" fill="#0d0c38" fill-opacity="1.00"/><circle cx="264.2" cy="493.7" r="2.40" fill="#0d0c38" fill-opacity="1.00"/><circle cx="269.1" cy="493.7" r="2.40" fill="#0d0c38" fill-opacity="1.00"/><circle cx="276.5" cy="493.7" r="1.85" fill="#0d0c38" fill-opacity="1.00"/><circle cx="281.2" cy="493.7" r="1.75" fill="#0d0c38" fill-opacity="1.00"/></g>
<ellipse cx="321.7" cy="408.3" rx="7.05" ry="5.6" fill="none" stroke="#a90f24" stroke-width="1.35"/>
<ellipse cx="321.7" cy="466.1" rx="7.0" ry="5.2" fill="none" stroke="#a90f24" stroke-width="1.35"/>
<rect x="0" y="0" width="520" height="1.0" fill="#666"/>
<rect x="0" y="0" width="1.05" height="552" fill="#6e6e6e"/>
<rect x="518.7" y="0" width="1.3" height="552" fill="#6e6e6e"/>
<rect x="0" y="550.6" width="520" height="1.4" fill="#585858"/>
</svg>
</body></html>
